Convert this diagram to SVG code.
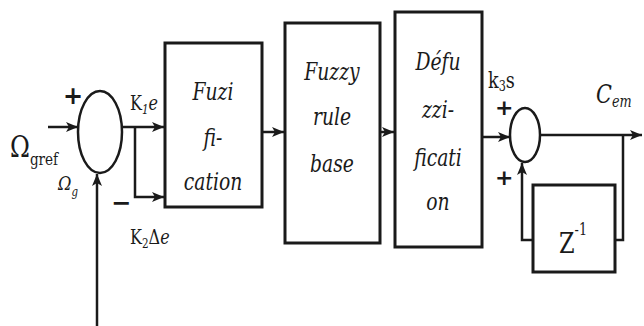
<svg xmlns="http://www.w3.org/2000/svg" width="644" height="326" viewBox="0 0 644 326">
<style>
.ln{fill:none;stroke:#1a1a1a;stroke-width:2.5}
.bx{fill:#fff;stroke:#1a1a1a;stroke-width:3}
text{font-family:'Liberation Serif','DejaVu Serif',serif;fill:#1a1a1a}
.dv{font-family:'DejaVu Serif',serif}
.it{font-style:italic}
.c{text-anchor:middle}
.pm{font-family:'DejaVu Sans',sans-serif;font-weight:bold}
</style>
<defs>
<marker id="ah" viewBox="0 0 12 10" refX="12" refY="5" markerWidth="12" markerHeight="10" markerUnits="userSpaceOnUse" orient="auto">
<path d="M0,0 L12,5 L0,10 L3,5 Z" fill="#1a1a1a"/>
</marker>
</defs>
<g id="connectors">
<line class="ln" x1="48" y1="127" x2="78" y2="127" marker-end="url(#ah)"/>
<line class="ln" x1="97" y1="326" x2="97" y2="174" marker-end="url(#ah)"/>
<polyline class="ln" points="122,127 164,127" marker-end="url(#ah)"/>
<polyline class="ln" points="135,127 135,197 164,197" marker-end="url(#ah)"/>
<line class="ln" x1="263" y1="132" x2="284" y2="132" marker-end="url(#ah)"/>
<line class="ln" x1="381" y1="132" x2="394" y2="132" marker-end="url(#ah)"/>
<line class="ln" x1="483" y1="137" x2="510" y2="137" marker-end="url(#ah)"/>
<line class="ln" x1="540" y1="135" x2="642" y2="135" marker-end="url(#ah)"/>
<polyline class="ln" points="623,135 623,240 615,240"/>
<polyline class="ln" points="533,240 522,240 522,163" marker-end="url(#ah)"/>
</g>
<g id="sum1">
<ellipse class="ln" cx="100" cy="132" rx="22" ry="41"/>
<text class="pm" x="63" y="104" font-size="24">+</text>
<text class="pm" x="111" y="211" font-size="24">−</text>
</g>
<g id="labels-left">
<text class="dv" transform="translate(10,157) scale(0.8,1)" font-size="30">Ω<tspan font-size="17" dy="8">gref</tspan></text>
<text class="dv it" transform="translate(58,190) scale(0.85,1)" font-size="19">Ω<tspan font-size="12" dy="6">g</tspan></text>
<text class="dv" transform="translate(130,110) scale(0.8,1)" font-size="20">K<tspan font-size="13" dy="4" class="it">1</tspan><tspan dy="-4" class="it">e</tspan></text>
<text class="dv" transform="translate(130,244) scale(0.8,1)" font-size="20">K<tspan font-size="13" dy="4">2</tspan><tspan dy="-4">Δ</tspan><tspan class="it">e</tspan></text>
</g>
<g id="fuzification">
<rect class="bx" x="165" y="43" width="97" height="164"/>
<text class="dv it c" transform="translate(213,100) scale(0.75,1)" font-size="25">Fuzi</text>
<text class="dv it c" transform="translate(213,146) scale(0.75,1)" font-size="25">fi-</text>
<text class="dv it c" transform="translate(213,190) scale(0.75,1)" font-size="25">cation</text>
</g>
<g id="rulebase">
<rect class="bx" x="285" y="23" width="95" height="220"/>
<text class="dv it c" transform="translate(332,80) scale(0.75,1)" font-size="25">Fuzzy</text>
<text class="dv it c" transform="translate(332,125) scale(0.75,1)" font-size="25">rule</text>
<text class="dv it c" transform="translate(332,172) scale(0.75,1)" font-size="25">base</text>
</g>
<g id="defuzzification">
<rect class="bx" x="395" y="12" width="87" height="235"/>
<text class="dv it c" transform="translate(438,70) scale(0.75,1)" font-size="25">Défu</text>
<text class="dv it c" transform="translate(438,118) scale(0.75,1)" font-size="25">zzi-</text>
<text class="dv it c" transform="translate(438,166) scale(0.75,1)" font-size="25">ficati</text>
<text class="dv it c" transform="translate(438,210) scale(0.75,1)" font-size="25">on</text>
</g>
<g id="sum2">
<ellipse class="ln" cx="525" cy="135" rx="15" ry="27"/>
<text class="pm" x="495" y="115" font-size="22">+</text>
<text class="pm" x="495" y="185" font-size="22">+</text>
<text class="dv" transform="translate(488,88) scale(0.8,1)" font-size="22">k<tspan font-size="14" dy="3">3</tspan><tspan dy="-3">s</tspan></text>
<text class="dv it" transform="translate(596,103) scale(0.8,1)" font-size="26">C<tspan font-size="16" dy="4">em</tspan></text>
</g>
<g id="delay">
<rect class="bx" x="533" y="185" width="82" height="87"/>
<text class="dv" transform="translate(559,253) scale(0.8,1)" font-size="28">Z<tspan font-size="16" dy="-18">-1</tspan></text>
</g>
</svg>
